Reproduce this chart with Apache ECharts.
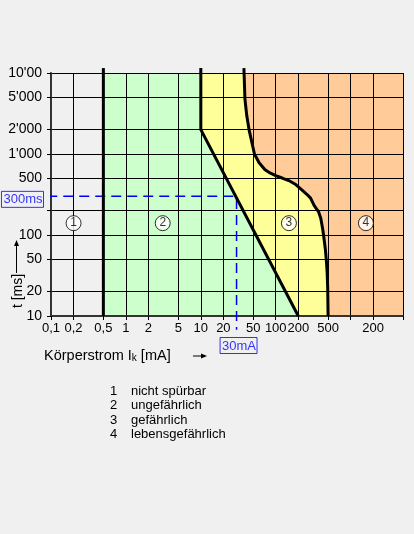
<!DOCTYPE html>
<html><head><meta charset="utf-8">
<script src="https://cdn.jsdelivr.net/npm/echarts@6/dist/echarts.min.js"></script>
<style>html,body{margin:0;padding:0;background:#f0f0f0;}#c{width:414px;height:534px;}</style>
</head><body><div id="c"></div>
<script>
// ---- data ----
const xTicks = [0.1, 0.2, 0.5, 1, 2, 5, 10, 20, 50, 100, 200, 500, 1000, 2000, 5000];
const xTickLabels = ['0,1', '0,2', '0,5', '1', '2', '5', '10', '20', '50', '100', '200', '500', '', '200', ''];
const yTicks = [10, 20, 50, 100, 200, 500, 1000, 2000, 5000, 10000];
const yTickLabels = ['10', '20', '50', '100', '', '500', "1'000", "2'000", "5'000", "10'00"];
const xRange = [0.1, 5000];
const yRange = [10, 10000];
// boundary curves [current mA, time ms]
const boundaryA = [[0.5, 11500], [0.5, 10]];
const boundaryB = [[10, 11500], [10, 2000], [200, 10]];
const boundaryC = [[37.6, 11500], [38.8, 4800], [41, 3000], [44, 2000], [52, 1000], [60, 780], [72, 640], [85, 580], [100, 540], [122, 505], [149, 470], [185, 420], [223, 360], [260, 318], [292, 285], [325, 232], [350, 210], [372, 195], [400, 160], [425, 116], [445, 85], [461, 65], [476, 46], [486, 34], [494, 22], [500, 10]];
const zoneLabels = ['1', '2', '3', '4'];
const zoneLabelPos = [[0.2, 140], [3.1, 140], [150, 140], [1600, 140]];
const marker = {current: 30, time: 300, currentText: '30mA', timeText: '300ms'};
const legendNums = ['1', '2', '3', '4'];
const legendTexts = ['nicht spürbar', 'ungefährlich', 'gefährlich', 'lebensgefährlich'];

// ---- chart ----
const L = v => Math.log10(v);
const P = p => [L(p[0]), L(p[1])];
const FONT = "'Liberation Sans', Arial, sans-serif";
const zoneColors = ['#ccffcc', '#ffff99', '#ffcc99'];

const region2 = boundaryA.concat(boundaryB.slice().reverse());
const region3 = boundaryB.concat(boundaryC.slice().reverse());
const region4 = boundaryC.concat([[xRange[1], 10], [xRange[1], 11500]]);

function fillSeries(points, color) {
  return {
    type: 'custom', coordinateSystem: 'cartesian2d', clip: true, silent: true, z: 1,
    data: [[0, 2]], encode: {x: 0, y: 1},
    renderItem: (params, api) => ({
      type: 'polygon',
      shape: {points: points.map(p => api.coord(P(p)))},
      style: {fill: color, stroke: null}
    })
  };
}
function nearestLabel(v, ticks, labels) {
  let best = 0, d = Infinity;
  ticks.forEach((t, i) => { const dd = Math.abs(L(t) - v); if (dd < d) { d = dd; best = i; } });
  return labels[best];
}
function boundarySeries(pts) {
  return {type: 'line', data: pts.map(P), symbol: 'none', clip: false, z: 5, silent: true,
    smooth: false, lineStyle: {color: '#000', width: 3}};
}

const chart = echarts.init(document.getElementById('c'), null, {renderer: 'canvas'});
const option = {
  backgroundColor: '#f0f0f0',
  animation: false,
  grid: {left: 51, top: 73, width: 352, height: 243, containLabel: false},
  xAxis: {
    type: 'value', min: L(xRange[0]), max: L(xRange[1]), z: 3,
    axisLine: {show: true, onZero: false, lineStyle: {color: '#333', width: 2}},
    axisTick: {show: true, length: 4, customValues: xTicks.map(L), lineStyle: {color: '#000'}},
    axisLabel: {customValues: xTicks.map(L), margin: 6, color: '#000', fontSize: 13, fontFamily: FONT,
      formatter: v => nearestLabel(v, xTicks, xTickLabels)},
    splitLine: {show: true, lineStyle: {color: '#000', width: 1}}
  },
  yAxis: {
    type: 'value', min: L(yRange[0]), max: L(yRange[1]), z: 3,
    axisLine: {show: true, onZero: false, lineStyle: {color: '#333', width: 2}},
    axisTick: {show: true, length: 4, customValues: yTicks.map(L), lineStyle: {color: '#000'}},
    axisLabel: {customValues: yTicks.map(L), margin: 9, color: '#000', fontSize: 14, fontFamily: FONT,
      formatter: v => nearestLabel(v, yTicks, yTickLabels)},
    splitLine: {show: true, lineStyle: {color: '#000', width: 1}}
  },
  series: [
    fillSeries(region2, zoneColors[0]),
    fillSeries(region3, zoneColors[1]),
    fillSeries(region4, zoneColors[2]),
    boundarySeries(boundaryA),
    boundarySeries(boundaryB),
    boundarySeries(boundaryC),
    {
      type: 'line', silent: true, clip: false, symbol: 'none', z: 4,
      data: [[L(xRange[0]) - 0.05, L(marker.time)], [L(marker.current), L(marker.time)], [L(marker.current), L(yRange[0]) - 0.17]],
      lineStyle: {color: '#0000ff', width: 1.5, type: [10, 6]}
    },
    {
      type: 'scatter', silent: true, clip: false, z: 6, symbol: 'circle', symbolSize: 15,
      itemStyle: {color: '#fff', borderColor: '#000', borderWidth: 1},
      data: zoneLabelPos.map((p, i) => ({value: P(p), name: zoneLabels[i]})),
      label: {show: true, position: 'inside', formatter: '{b}', color: '#000', fontSize: 12, fontFamily: FONT}
    },
    {
      type: 'scatter', silent: true, clip: false, z: 6, symbol: 'circle', symbolSize: 1,
      itemStyle: {color: 'rgba(0,0,0,0)'},
      data: [
        {value: [L(xRange[0]), L(marker.time)], label: {formatter: marker.timeText, position: 'left', distance: 7, offset: [0, 3]}},
        {value: [L(marker.current), L(yRange[0])], label: {formatter: marker.currentText, position: 'bottom', distance: 21, offset: [2, 0]}}
      ],
      label: {show: true, color: '#0000ff', fontSize: 13, fontFamily: FONT, borderColor: '#0000ff',
        borderWidth: 1, padding: [2, 1, 1, 2], lineHeight: 13}
    }
  ],
  graphic: [
    {type: 'text', left: 44, top: 348, style: {
      text: '{a|Körperstrom I}{s|k}{a| [mA]}', fill: '#000',
      rich: {a: {fontSize: 14.5, fontFamily: FONT, fill: '#000'}, s: {fontSize: 10, fontFamily: FONT, fill: '#000', padding: [6, 0, 0, 0]}}
    }},
    {type: 'line', shape: {x1: 193, y1: 356, x2: 204, y2: 356}, style: {stroke: '#000', lineWidth: 1}},
    {type: 'polygon', shape: {points: [[207, 356], [201, 353.5], [201, 358.5]]}, style: {fill: '#000'}},
    {type: 'line', shape: {x1: 16.5, y1: 273, x2: 16.5, y2: 244}, style: {stroke: '#000', lineWidth: 1}},
    {type: 'polygon', shape: {points: [[16.5, 240], [14, 246], [19, 246]]}, style: {fill: '#000'}},
    {type: 'text', x: 18, y: 291, rotation: Math.PI / 2, style: {
      text: 't [ms]', fontSize: 14, fontFamily: FONT, fill: '#000', align: 'center', verticalAlign: 'middle'}},
    ...legendNums.map((n, i) => ({type: 'text', x: 110, y: 391 + i * 14.5, style: {
      text: n, fontSize: 13, fontFamily: FONT, fill: '#000', verticalAlign: 'middle'}})),
    ...legendTexts.map((t, i) => ({type: 'text', x: 131, y: 391 + i * 14.5, style: {
      text: t, fontSize: 13, fontFamily: FONT, fill: '#000', verticalAlign: 'middle'}}))
  ]
};
chart.setOption(option);
</script>
</body></html>
